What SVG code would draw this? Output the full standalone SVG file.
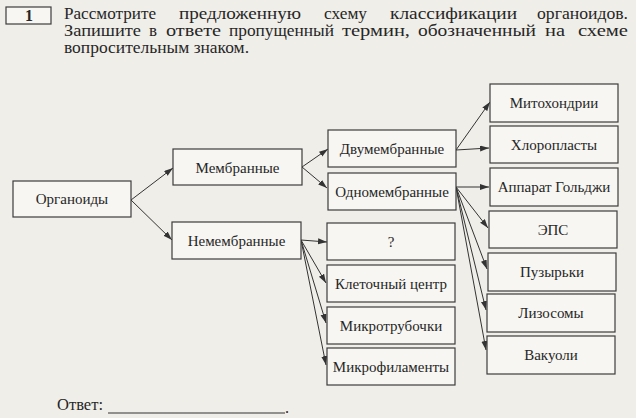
<svg xmlns="http://www.w3.org/2000/svg" width="636" height="418" viewBox="0 0 636 418">
<defs>
<marker id="ah" markerUnits="userSpaceOnUse" markerWidth="10" markerHeight="7" refX="9" refY="3" orient="auto">
<path d="M0,0 L9,3 L0,6 z" fill="#333"/>
</marker>
<style>
.hdr{font-family:"Liberation Serif","Times New Roman",serif;font-size:16px;fill:#262626;}
.lbl{font-family:"Liberation Serif","Times New Roman",serif;font-size:15px;fill:#262626;text-anchor:middle;}
.box{fill:#f7f6f2;stroke:#3c3c3c;stroke-width:1.2;}
.con line{stroke:#333;stroke-width:1;marker-end:url(#ah);}
</style>
</defs>
<rect x="0" y="0" width="636" height="418" fill="#f0eee9"/>
<g id="header">
<rect x="6" y="7" width="45" height="17" fill="#f7f6f2" stroke="#3c3c3c" stroke-width="1.2"/>
<text class="hdr" x="29" y="20.5" text-anchor="middle" font-weight="bold">1</text>
<text class="hdr" x="64" y="19" textLength="92" lengthAdjust="spacingAndGlyphs">Рассмотрите</text>
<text class="hdr" x="179" y="19" textLength="122" lengthAdjust="spacingAndGlyphs">предложенную</text>
<text class="hdr" x="324" y="19" textLength="43" lengthAdjust="spacingAndGlyphs">схему</text>
<text class="hdr" x="390" y="19" textLength="127" lengthAdjust="spacingAndGlyphs">классификации</text>
<text class="hdr" x="537" y="19" textLength="91" lengthAdjust="spacingAndGlyphs">органоидов.</text>
<text class="hdr" x="64" y="36" textLength="77" lengthAdjust="spacingAndGlyphs">Запишите</text>
<text class="hdr" x="149" y="36" textLength="8" lengthAdjust="spacingAndGlyphs">в</text>
<text class="hdr" x="166" y="36" textLength="55" lengthAdjust="spacingAndGlyphs">ответе</text>
<text class="hdr" x="229" y="36" textLength="105" lengthAdjust="spacingAndGlyphs">пропущенный</text>
<text class="hdr" x="342" y="36" textLength="68" lengthAdjust="spacingAndGlyphs">термин,</text>
<text class="hdr" x="418" y="36" textLength="118" lengthAdjust="spacingAndGlyphs">обозначенный</text>
<text class="hdr" x="545" y="36" textLength="20" lengthAdjust="spacingAndGlyphs">на</text>
<text class="hdr" x="578" y="36" textLength="50" lengthAdjust="spacingAndGlyphs">схеме</text>
<text class="hdr" x="64" y="53" textLength="185" lengthAdjust="spacingAndGlyphs">вопросительным знаком.</text>
</g>
<g id="connectors" class="con">
<line x1="131" y1="200" x2="173" y2="168"/>
<line x1="131" y1="200" x2="172" y2="240"/>
<line x1="302" y1="167" x2="328" y2="149"/>
<line x1="302" y1="167" x2="327" y2="188"/>
<line x1="301" y1="240" x2="327" y2="242"/>
<line x1="301" y1="240" x2="326" y2="283"/>
<line x1="301" y1="240" x2="326" y2="323"/>
<line x1="301" y1="240" x2="326" y2="365"/>
<line x1="456" y1="150" x2="490" y2="102"/>
<line x1="456" y1="150" x2="489" y2="148"/>
<line x1="456" y1="187" x2="489" y2="187"/>
<line x1="456" y1="187" x2="488" y2="228"/>
<line x1="456" y1="187" x2="487" y2="269"/>
<line x1="456" y1="187" x2="486" y2="310"/>
<line x1="456" y1="187" x2="486" y2="350"/>
</g>
<g id="organoidy"><rect class="box" x="13" y="181" width="118" height="36"/><text class="lbl" x="72" y="204">Органоиды</text></g>
<g id="membrannye"><rect class="box" x="173" y="149" width="129" height="36"/><text class="lbl" x="237.5" y="172.5">Мембранные</text></g>
<g id="nemembrannye"><rect class="box" x="172" y="222" width="129" height="37"/><text class="lbl" x="236.5" y="245.5">Немембранные</text></g>
<g id="dvumembrannye"><rect class="box" x="328" y="130" width="128" height="37"/><text class="lbl" x="392" y="153.5">Двумембранные</text></g>
<g id="odnomembrannye"><rect class="box" x="328" y="173" width="128" height="37"/><text class="lbl" x="392" y="196.5">Одномембранные</text></g>
<g id="question"><rect class="box" x="327" y="223" width="128" height="37"/><text class="lbl" x="391" y="246.5">?</text></g>
<g id="kletochny-centr"><rect class="box" x="327" y="265" width="128" height="37"/><text class="lbl" x="391" y="288.5">Клеточный центр</text></g>
<g id="mikrotrubochki"><rect class="box" x="327" y="307" width="128" height="37"/><text class="lbl" x="391" y="330.5">Микротрубочки</text></g>
<g id="mikrofilamenty"><rect class="box" x="327" y="348" width="128" height="37"/><text class="lbl" x="391" y="371.5">Микрофиламенты</text></g>
<g id="mitohondrii"><rect class="box" x="490" y="84" width="128" height="38"/><text class="lbl" x="554" y="108">Митохондрии</text></g>
<g id="hloroplasty"><rect class="box" x="490" y="126" width="128" height="37"/><text class="lbl" x="554" y="149.5">Хлоропласты</text></g>
<g id="golgi"><rect class="box" x="490" y="168" width="128" height="38"/><text class="lbl" x="554" y="192">Аппарат Гольджи</text></g>
<g id="eps"><rect class="box" x="489" y="211" width="128" height="37"/><text class="lbl" x="553" y="234.5">ЭПС</text></g>
<g id="puzyrki"><rect class="box" x="488" y="253" width="128" height="38"/><text class="lbl" x="552" y="277">Пузырьки</text></g>
<g id="lizosomy"><rect class="box" x="487" y="294" width="128" height="38"/><text class="lbl" x="551" y="318">Лизосомы</text></g>
<g id="vakuoli"><rect class="box" x="487" y="336" width="128" height="38"/><text class="lbl" x="551" y="360">Вакуоли</text></g>
<g id="answer">
<text class="hdr" x="57" y="410" textLength="46" lengthAdjust="spacingAndGlyphs">Ответ:</text>
<line x1="108" y1="413" x2="285" y2="413" stroke="#333" stroke-width="1"/>
<text class="hdr" x="285" y="413">.</text>
</g>
</svg>
